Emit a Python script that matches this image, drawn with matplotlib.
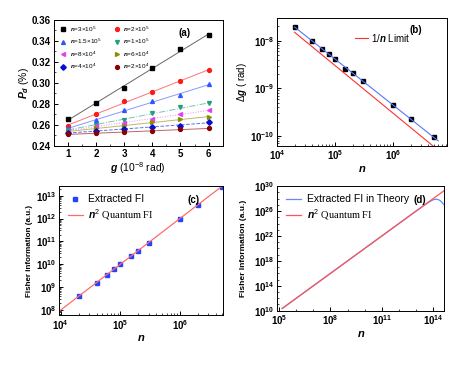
import numpy as np
import matplotlib
matplotlib.use("Agg")
import matplotlib.pyplot as plt
from matplotlib import ticker

plt.rcParams['font.family'] = ['Liberation Sans', 'DejaVu Sans']
plt.rcParams['mathtext.fontset'] = 'custom'
plt.rcParams['mathtext.rm'] = 'Liberation Sans'
plt.rcParams['mathtext.it'] = 'Liberation Sans:italic:bold'
plt.rcParams['mathtext.bf'] = 'Liberation Sans:bold'

# ---------------- data ----------------
# (a) detection probability vs g for several photon numbers
g_vals = [1, 2, 3, 4, 5, 6]
n_labels = ['3$\\times$10$^5$', '2$\\times$10$^5$', '1.5$\\times$10$^5$', '1$\\times$10$^5$',
            '8$\\times$10$^4$', '6$\\times$10$^4$', '4$\\times$10$^4$', '2$\\times$10$^4$']
pd_3e5 = [0.2655, 0.2805, 0.2950, 0.3139, 0.3320, 0.3457]
pd_2e5 = [0.2590, 0.2702, 0.2826, 0.2910, 0.3017, 0.3122]
pd_15e4 = [0.2566, 0.2642, 0.2740, 0.2826, 0.2884, 0.2986]
pd_1e5 = [0.2555, 0.2602, 0.2645, 0.2709, 0.2766, 0.2804]
pd_8e4 = [0.2545, 0.2588, 0.2620, 0.2655, 0.2700, 0.2740]
pd_6e4 = [0.2535, 0.2569, 0.2590, 0.2623, 0.2652, 0.2677]
pd_4e4 = [0.2525, 0.2540, 0.2560, 0.2580, 0.2588, 0.2629]
pd_2e4 = [0.2510, 0.2518, 0.2533, 0.2540, 0.2556, 0.2566]

# (b) sensitivity vs n
n_meas = [2e4, 4e4, 6e4, 8e4, 1e5, 1.5e5, 2e5, 3e5, 1e6, 2e6, 5e6]
dg_meas = [1.95e-8, 1.0e-8, 6.7e-9, 5.3e-9, 4.2e-9, 2.5e-9, 2.1e-9, 1.43e-9, 4.4e-10, 2.3e-10, 9.5e-11]
n_line_b = [2e4, 6e6]
limit_coef = 3.0e-4

# (c) extracted Fisher information
fi_meas = [4.1e8, 1.5e9, 3.4e9, 6.2e9, 1.0e10, 2.4e10, 4.0e10, 8.6e10, 9.6e11, 3.8e12, 2.5e13]
n_line_c = [1e4, 5e6]

# (d) theoretical Fisher information
n_line_d = [1.5e5, 4.3e14]
n_theory = [1.5e5, 1e8, 1e11, 3e12, 1e13, 3e13, 6e13, 1e14, 1.3e14, 1.8e14, 2.5e14, 3.2e14, 4e14]
fi_theory = [2.25e10, 1e16, 1e22, 9e24, 1e26, 8.5e26, 3e27, 6.5e27, 7.8e27, 7.5e27, 5e27, 2.6e27, 1.2e27]
d_xmajor_exp = [5, 8, 11, 14]
d_ymajor_exp = [10, 14, 18, 22, 26, 30]

# ---------------- figure ----------------
fig = plt.figure(figsize=(4.49, 3.73), dpi=100)
ax_a = fig.add_axes([0.120, 0.609, 0.376, 0.338])
ax_b = fig.add_axes([0.617, 0.609, 0.378, 0.343])
ax_c = fig.add_axes([0.132, 0.155, 0.365, 0.346])
ax_d = fig.add_axes([0.618, 0.167, 0.371, 0.334])


def style(ax):
    ax.tick_params(which='both', direction='in', top=False, right=False)
    ax.tick_params(which='major', length=3, width=0.7, pad=2, labelsize=7)
    ax.tick_params(which='minor', length=1.5, width=0.5)
    for lab in ax.get_xticklabels() + ax.get_yticklabels():
        lab.set_fontweight('bold')
    for s in ax.spines.values():
        s.set_linewidth(0.7)


# (a)
series = [pd_3e5, pd_2e5, pd_15e4, pd_1e5, pd_8e4, pd_6e4, pd_4e4, pd_2e4]
colors = ['black', '#ff1a1a', '#3355ff', '#20a080', '#e040f0', '#8c8c00', '#0010d0', '#8b0000']
markers = ['s', 'o', '^', 'v', '<', '>', 'D', 'o']
lstyles = ['-', '-', '-', '-.', ':', '-', '--', '-']
handles = []
for ys, c, m, ls, lab in zip(series, colors, markers, lstyles, n_labels):
    h, = ax_a.plot(g_vals, ys, ls='none', marker=m, ms=2.8, color=c, label='$n$=' + lab)
    p = np.polyfit(g_vals, ys, 1)
    ax_a.plot(g_vals, np.polyval(p, g_vals), ls=ls, lw=0.7, color=c, alpha=0.6)
    handles.append(h)
order = [0, 2, 4, 6, 1, 3, 5, 7]
ax_a.legend([handles[i] for i in order], [handles[i].get_label() for i in order],
            ncol=2, fontsize=4.6, frameon=False, loc='upper left',
            bbox_to_anchor=(0.0, 1.0), handletextpad=0.3, columnspacing=1.6,
            labelspacing=0.5, handlelength=1.5, borderaxespad=0.3)
ax_a.set_xlim(0.5, 6.5)
ax_a.set_ylim(0.24, 0.36)
ax_a.xaxis.set_major_locator(ticker.MultipleLocator(1))
ax_a.xaxis.set_minor_locator(ticker.MultipleLocator(0.5))
ax_a.yaxis.set_major_locator(ticker.MultipleLocator(0.02))
ax_a.yaxis.set_minor_locator(ticker.MultipleLocator(0.01))
ax_a.yaxis.set_major_formatter(ticker.FormatStrFormatter('%.2f'))
ax_a.set_xlabel('$g$ (10$^{-8}$ rad)', fontsize=7.5, labelpad=1)
ax_a.set_ylabel('$P_d$ (%)', fontsize=7.5, labelpad=1)
ax_a.text(0.74, 0.87, '(a)', transform=ax_a.transAxes, fontsize=7, fontweight='bold')
style(ax_a)

# (b)
ax_b.set_xscale('log')
ax_b.set_yscale('log')
ax_b.plot(n_meas, dg_meas, ls='none', marker='s', ms=2.6, color='black')
pb = np.polyfit(np.log10(n_meas), np.log10(dg_meas), 1)
nb = np.array(n_line_b)
ax_b.plot(nb, 10 ** np.polyval(pb, np.log10(nb)), color='#5577ff', lw=0.8)
ax_b.plot(nb, limit_coef / nb, color='#ff3030', lw=0.8, label='1/$n$ Limit')
ax_b.legend(loc='upper left', bbox_to_anchor=(0.41, 0.96), frameon=False, fontsize=7,
            handlelength=1.3, handletextpad=0.3)
ax_b.set_xlim(1e4, 8.4e6)
ax_b.set_ylim(6.2e-11, 3e-8)
ax_b.set_xlabel('$n$', fontsize=8, labelpad=1)
ax_b.set_ylabel('$\\Delta g$ ( rad)', fontsize=7, labelpad=1)
ax_b.text(0.78, 0.88, '(b)', transform=ax_b.transAxes, fontsize=7, fontweight='bold')
style(ax_b)

# (c)
ax_c.set_xscale('log')
ax_c.set_yscale('log')
nc = np.array(n_line_c)
ax_c.plot(n_meas, fi_meas, ls='none', marker='s', ms=2.4, color='#2244ff', label='Extracted FI')
ax_c.plot(nc, nc ** 2, color='#ff6b6b', lw=0.9, label='$n^2$ Quantum FI')
lc = ax_c.legend(loc='upper left', frameon=False, fontsize=7.5, handlelength=1.5,
                 handletextpad=0.5, labelspacing=0.3, borderaxespad=0.4)
lc.get_texts()[1].set_family('Liberation Serif')
ax_c.set_xlim(9.5e3, 5.3e6)
ax_c.set_ylim(6e7, 2.6e13)
ax_c.yaxis.set_major_locator(ticker.LogLocator(base=10, numticks=12))
ax_c.set_xlabel('$n$', fontsize=8, labelpad=1)
ax_c.set_ylabel('Fisher information (a.u.)', fontsize=5.8, fontweight='bold', labelpad=2)
ax_c.text(0.78, 0.87, '(c)', transform=ax_c.transAxes, fontsize=7, fontweight='bold')
style(ax_c)

# (d)
ax_d.set_xscale('log')
ax_d.set_yscale('log')
nd = np.array(n_line_d)
ax_d.plot(n_theory, fi_theory, color='#6688ff', lw=0.9, label='Extracted FI in Theory')
ax_d.plot(nd, nd ** 2, color='#ff5555', lw=0.9, label='$n^2$ Quantum FI')
ld = ax_d.legend(loc='upper left', frameon=False, fontsize=7.5, handlelength=1.5,
                 handletextpad=0.5, labelspacing=0.3, borderaxespad=0.4)
ld.get_texts()[1].set_family('Liberation Serif')
ax_d.set_xlim(8e4, 4.3e14)
ax_d.set_ylim(1e10, 1e30)
ax_d.xaxis.set_major_locator(ticker.FixedLocator([10.0 ** k for k in d_xmajor_exp]))
ax_d.yaxis.set_major_locator(ticker.FixedLocator([10.0 ** k for k in d_ymajor_exp]))
ax_d.xaxis.set_minor_locator(ticker.FixedLocator(
    [10.0 ** k for k in range(5, 15) if k not in d_xmajor_exp]))
ax_d.yaxis.set_minor_locator(ticker.FixedLocator(
    [10.0 ** k for k in range(10, 31) if k not in d_ymajor_exp]))
ax_d.xaxis.set_major_formatter(ticker.LogFormatterSciNotation())
ax_d.yaxis.set_major_formatter(ticker.LogFormatterSciNotation())
ax_d.xaxis.set_minor_formatter(ticker.NullFormatter())
ax_d.yaxis.set_minor_formatter(ticker.NullFormatter())
ax_d.set_xlabel('$n$', fontsize=8, labelpad=1)
ax_d.set_ylabel('Fisher Information (a.u.)', fontsize=6, fontweight='bold', labelpad=5)
ax_d.text(0.815, 0.865, '(d)', transform=ax_d.transAxes, fontsize=7, fontweight='bold')
style(ax_d)

fig.savefig('out.png', dpi=100)
